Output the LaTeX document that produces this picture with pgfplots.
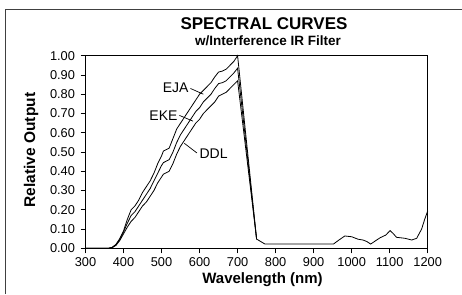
\documentclass[border=0pt]{standalone}
\usepackage{fontspec}
\setmainfont{Liberation Sans}
\usepackage{pgfplots}
\pgfplotsset{compat=1.18}
\begin{document}
\begin{tikzpicture}[x=1pt,y=1pt]
\useasboundingbox (0,0) rectangle (462,294);
\draw[line width=1pt, black!75] (5,0) -- (5,284.7) -- (462,284.7);
\begin{axis}[
  at={(85.5pt,45.7pt)}, anchor=south west,
  scale only axis, width=342.2pt, height=192.6pt,
  xmin=300, xmax=1200, ymin=0, ymax=1,
  xtick={300,400,500,600,700,800,900,1000,1100,1200},
  ytick={0,0.1,0.2,0.3,0.4,0.5,0.6,0.7,0.8,0.9,1.0},
  tick align=outside, xtick pos=left, ytick pos=left,
  major tick length=5pt,
  axis line style={line width=0.8pt},
  every tick/.style={line width=0.8pt, black},
  /pgf/number format/assume math mode=true,
  yticklabel style={/pgf/number format/fixed, /pgf/number format/zerofill, /pgf/number format/precision=2, xshift=-2pt},
  xticklabel style={/pgf/number format/1000 sep={}, yshift=-1pt},
  ticklabel style={font=\fontsize{12.8}{13}\selectfont},
  clip=false,
]
% EJA
\addplot[line width=0.8pt, black] coordinates {
(300,0) (360,0) (370,0.005) (380,0.02) (390,0.05) (400,0.09) (410,0.15) (420,0.20) (430,0.22) (440,0.25) (450,0.29) (460,0.32) (470,0.35) (480,0.39) (490,0.44) (500,0.48) (505,0.505) (520,0.52) (530,0.57) (540,0.62) (550,0.65) (560,0.68) (570,0.71) (580,0.74) (590,0.77) (600,0.80) (610,0.82) (620,0.84) (630,0.86) (640,0.89) (650,0.915) (660,0.92) (670,0.93) (680,0.95) (690,0.97) (700,1.00)
(750,0.048) (772,0.022) (800,0.022) (952,0.022) (968,0.045) (982,0.064) (1000,0.06) (1017,0.047) (1030,0.043) (1040,0.035) (1050,0.022) (1062,0.038) (1075,0.055) (1090,0.069) (1101,0.092) (1110,0.075) (1118,0.057) (1140,0.052) (1158,0.043) (1171,0.052) (1184,0.10) (1192,0.15) (1200,0.194)
};
% EKE
\addplot[line width=0.8pt, black] coordinates {
(300,0) (360,0) (370,0.004) (380,0.018) (390,0.045) (400,0.085) (410,0.13) (420,0.17) (430,0.19) (440,0.22) (450,0.25) (460,0.28) (470,0.31) (480,0.35) (490,0.39) (500,0.43) (505,0.445) (520,0.46) (530,0.50) (540,0.55) (550,0.59) (560,0.62) (570,0.65) (580,0.68) (590,0.71) (600,0.73) (610,0.76) (620,0.78) (630,0.80) (640,0.83) (650,0.855) (660,0.86) (670,0.87) (680,0.89) (690,0.91) (700,0.935)
(750,0.048)
};
% DDL
\addplot[line width=0.8pt, black] coordinates {
(300,0) (360,0) (370,0.003) (380,0.015) (390,0.04) (400,0.075) (410,0.11) (420,0.14) (430,0.16) (440,0.19) (450,0.22) (460,0.24) (470,0.27) (480,0.30) (490,0.34) (500,0.37) (505,0.385) (520,0.40) (530,0.44) (540,0.49) (550,0.53) (560,0.56) (570,0.59) (580,0.62) (590,0.65) (600,0.67) (610,0.70) (620,0.72) (630,0.74) (640,0.76) (650,0.79) (660,0.80) (670,0.81) (680,0.83) (690,0.85) (700,0.87)
(750,0.048)
};
\node[font=\fontsize{14}{14}\selectfont] at (axis cs:537,0.831) {EJA};
\node[font=\fontsize{14}{14}\selectfont] at (axis cs:505,0.69) {EKE};
\node[font=\fontsize{14}{14}\selectfont] at (axis cs:637,0.49) {DDL};
\draw[line width=0.7pt] (axis cs:576,0.83) -- (axis cs:610,0.80);
\draw[line width=0.7pt] (axis cs:547,0.69) -- (axis cs:583,0.66);
\draw[line width=0.7pt] (axis cs:560,0.545) -- (axis cs:593,0.495);
\end{axis}
\node[anchor=base, font=\bfseries\fontsize{17}{17}\selectfont] at (264,264) {SPECTRAL CURVES};
\node[anchor=base, font=\bfseries\fontsize{13.5}{14}\selectfont] at (268,248) {w/Interference IR Filter};
\node[anchor=base, font=\bfseries\fontsize{15}{16}\selectfont] at (262.5,10.5) {Wavelength (nm)};
\node[anchor=base, rotate=90, font=\bfseries\fontsize{15.5}{16}\selectfont] at (35,144) {Relative Output};
\end{tikzpicture}
\end{document}
